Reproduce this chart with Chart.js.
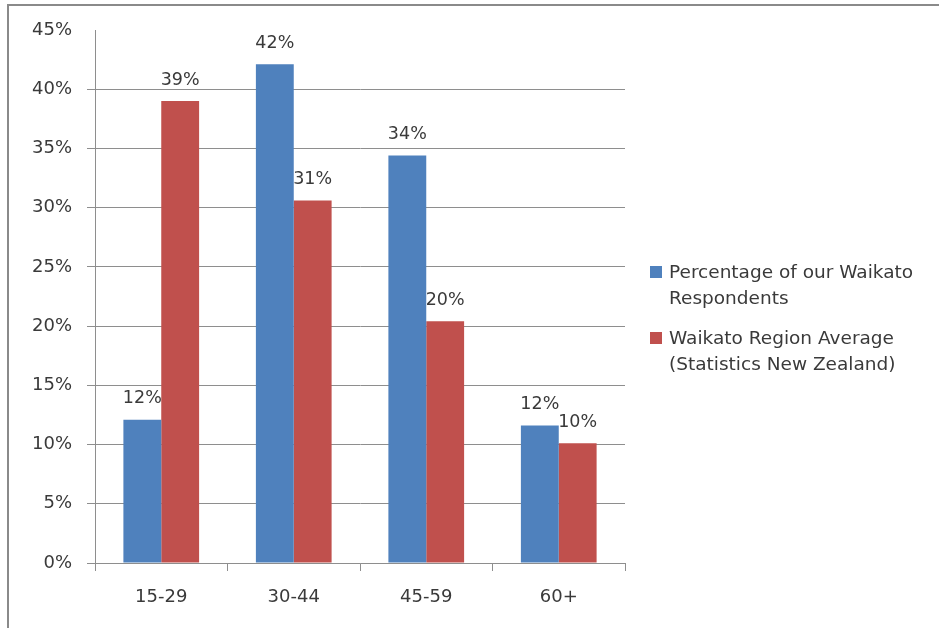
<!DOCTYPE html>
<html>
<head>
<meta charset="utf-8">
<script src="https://cdn.jsdelivr.net/npm/chart.js@4/dist/chart.umd.min.js"></script>
<style>
  html, body { margin: 0; padding: 0; background: #fff; }
  #wrap { position: relative; width: 939px; height: 628px; overflow: hidden; }
  #frame { position: absolute; left: 7px; top: 4px; width: 1000px; height: 700px;
           border-left: 2px solid #8a8a8a; border-top: 2px solid #8a8a8a; box-sizing: border-box; }
  canvas { position: absolute; left: 0; top: 0; }
</style>
</head>
<body>
<div id="wrap">
  <div id="frame"></div>
  <canvas id="chart" width="939" height="628"></canvas>
</div>
<script>
// Age groups of survey respondents vs. the regional census average (%)
const ageGroups = ['15-29', '30-44', '45-59', '60+'];
const respondents = [12.1, 42.1, 34.4, 11.6];
const regionAverage = [39.0, 30.6, 20.4, 10.1];
const seriesNames = [
  ['Percentage of our Waikato', 'Respondents'],
  ['Waikato Region Average', '(Statistics New Zealand)']
];
const seriesColors = ['#4F81BD', '#C0504D'];
const yTicks = [0, 5, 10, 15, 20, 25, 30, 35, 40, 45];

const FONT = '"DejaVu Sans", sans-serif';
const TEXT = '#3a3a3a';
const GRID = '#8e8e8e';

// Value labels above each bar
const barLabels = {
  id: 'barLabels',
  afterDatasetsDraw(chart) {
    const ctx = chart.ctx;
    ctx.save();
    ctx.font = '17.5px ' + FONT;
    ctx.fillStyle = TEXT;
    ctx.textAlign = 'center';
    ctx.textBaseline = 'middle';
    chart.data.datasets.forEach((ds, i) => {
      chart.getDatasetMeta(i).data.forEach((bar, j) => {
        ctx.fillText(Math.round(ds.data[j]) + '%', bar.x, bar.y - 21);
      });
    });
    ctx.restore();
  }
};

// Legend on the right with wrapped series names
const sideLegend = {
  id: 'sideLegend',
  afterDraw(chart) {
    const ctx = chart.ctx;
    const x = 650, top = [266, 332], lineH = 26;
    ctx.save();
    ctx.font = '18.5px ' + FONT;
    ctx.textBaseline = 'alphabetic';
    ctx.textAlign = 'left';
    seriesNames.forEach((lines, i) => {
      ctx.fillStyle = seriesColors[i];
      ctx.fillRect(x, top[i], 12, 12);
      ctx.fillStyle = TEXT;
      lines.forEach((t, k) => ctx.fillText(t, x + 19, top[i] + 12 + k * lineH));
    });
    ctx.restore();
  }
};

new Chart(document.getElementById('chart'), {
  type: 'bar',
  data: {
    labels: ageGroups,
    datasets: [
      { label: seriesNames[0].join(' '), data: respondents, backgroundColor: seriesColors[0] },
      { label: seriesNames[1].join(' '), data: regionAverage, backgroundColor: seriesColors[1] }
    ]
  },
  options: {
    responsive: false,
    animation: false,
    devicePixelRatio: 1,
    layout: { padding: { left: 0, top: 30, right: 314, bottom: 0 } },
    datasets: { bar: { categoryPercentage: 2 / 3.5, barPercentage: 1, borderWidth: 0 } },
    plugins: { legend: { display: false }, tooltip: { enabled: false } },
    scales: {
      x: {
        offset: true,
        afterFit(s) { s.height = 65; },
        grid: { offset: true, drawOnChartArea: false, drawTicks: true, tickLength: 8, color: GRID },
        border: { color: GRID },
        ticks: { font: { family: FONT, size: 18 }, color: TEXT, padding: 16 }
      },
      y: {
        min: 0,
        max: 45,
        afterFit(s) { s.width = 95; },
        afterBuildTicks(s) { s.ticks = yTicks.map(v => ({ value: v })); },
        grid: {
          tickLength: 8,
          color: (c) => (c.tick && c.tick.value === 45 ? 'rgba(0,0,0,0)' : GRID)
        },
        border: { color: GRID },
        ticks: {
          font: { family: FONT, size: 18 },
          color: TEXT,
          padding: 15,
          callback: (v) => v + '%'
        }
      }
    }
  },
  plugins: [barLabels, sideLegend]
});
</script>
</body>
</html>
